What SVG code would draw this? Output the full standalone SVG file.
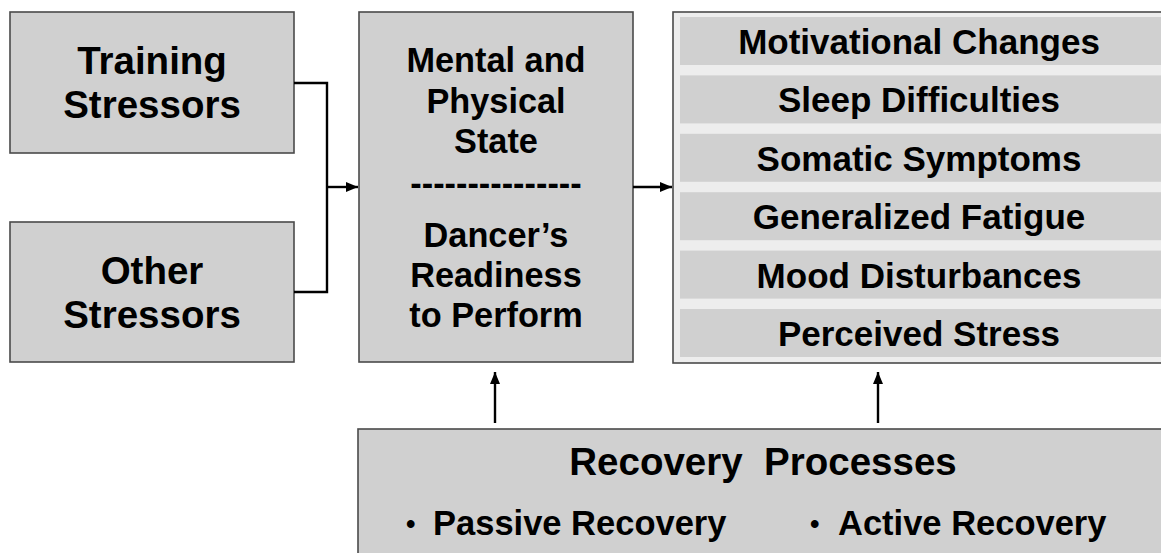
<svg xmlns="http://www.w3.org/2000/svg" width="1161" height="553" viewBox="0 0 1161 553">
  <style>
    .box { fill: #d0d0d0; stroke: #4a4a4a; stroke-width: 1.6; }
    .panel { fill: #ededed; stroke: #4a4a4a; stroke-width: 1.6; }
    .strip { fill: #d0d0d0; }
    .t { font-family: "Liberation Sans", Arial, sans-serif; font-weight: bold; fill: #000; text-anchor: middle; }
    .t38 { font-size: 38.5px; }
    .t34 { font-size: 34.3px; }
    .t35 { font-size: 35px; }
    .tl { font-family: "Liberation Sans", Arial, sans-serif; font-weight: bold; fill: #000; font-size: 34.5px; }
    .dot { font-size: 27px; }
    .conn { fill: none; stroke: #000; stroke-width: 2.4; }
  </style>
  <defs>
    <marker id="arrow" markerUnits="userSpaceOnUse" markerWidth="13" markerHeight="11" refX="12" refY="5" orient="auto">
      <path d="M0,0 L12,5 L0,10 z" fill="#000"/>
    </marker>
  </defs>

  <rect width="1161" height="553" fill="#ffffff"/>

  <g id="training-stressors">
    <rect class="box" x="10" y="12" width="284" height="141"/>
    <text class="t t38" x="152" y="74">Training</text>
    <text class="t t38" x="152" y="118">Stressors</text>
  </g>

  <g id="other-stressors">
    <rect class="box" x="10" y="222" width="284" height="140"/>
    <text class="t t38" x="152" y="284">Other</text>
    <text class="t t38" x="152" y="328">Stressors</text>
  </g>

  <g id="state">
    <rect class="box" x="359" y="12" width="274" height="350"/>
    <text class="t t34" x="496" y="72">Mental and</text>
    <text class="t t34" x="496" y="113">Physical</text>
    <text class="t t34" x="496" y="153">State</text>
    <text class="t t34" x="496" y="195">---------------</text>
    <text class="t t34" x="496" y="247">Dancer’s</text>
    <text class="t t34" x="496" y="287">Readiness</text>
    <text class="t t34" x="496" y="327">to Perform</text>
  </g>

  <g id="symptoms">
    <rect class="panel" x="673" y="12" width="495" height="351"/>
    <rect class="strip" x="680" y="17" width="485" height="48"/>
    <rect class="strip" x="680" y="75.4" width="485" height="48"/>
    <rect class="strip" x="680" y="133.8" width="485" height="48"/>
    <rect class="strip" x="680" y="192.2" width="485" height="48"/>
    <rect class="strip" x="680" y="250.6" width="485" height="48"/>
    <rect class="strip" x="680" y="309" width="485" height="48"/>
    <text class="t t35" x="919" y="54">Motivational Changes</text>
    <text class="t t35" x="919" y="112.4">Sleep Difficulties</text>
    <text class="t t35" x="919" y="170.8">Somatic Symptoms</text>
    <text class="t t35" x="919" y="229.2">Generalized Fatigue</text>
    <text class="t t35" x="919" y="287.6">Mood Disturbances</text>
    <text class="t t35" x="919" y="346">Perceived Stress</text>
  </g>

  <g id="recovery">
    <rect class="box" x="358" y="429" width="812" height="140"/>
    <text class="t t38" x="763" y="475" xml:space="preserve">Recovery  Processes</text>
    <text class="tl" y="535"><tspan class="dot" x="406" y="533">•</tspan><tspan x="433" y="535">Passive Recovery</tspan></text>
    <text class="tl" y="535"><tspan class="dot" x="810" y="533">•</tspan><tspan x="838" y="535">Active Recovery</tspan></text>
  </g>

  <g id="connectors">
    <path class="conn" d="M294,83 H327 V292 H294"/>
    <path class="conn" d="M327,187 H358" marker-end="url(#arrow)"/>
    <path class="conn" d="M633,187 H672" marker-end="url(#arrow)"/>
    <path class="conn" d="M495,423 V372" marker-end="url(#arrow)"/>
    <path class="conn" d="M878,423 V372" marker-end="url(#arrow)"/>
  </g>
</svg>
